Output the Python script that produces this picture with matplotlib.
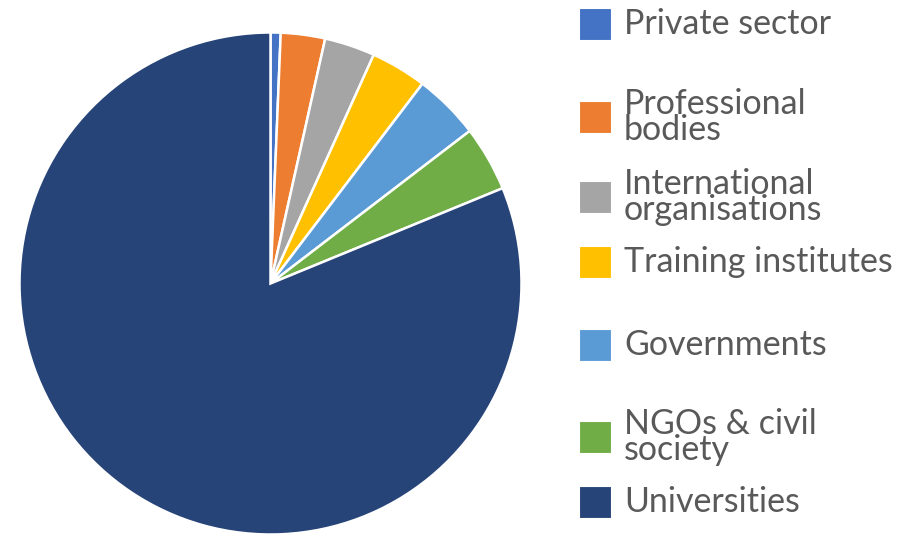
import matplotlib
matplotlib.use('Agg')
import matplotlib.pyplot as plt
from matplotlib.patches import Rectangle

labels = ['Private sector', 'Professional\nbodies', 'International\norganisations',
          'Training institutes', 'Governments', 'NGOs & civil\nsociety', 'Universities']
shares = [0.65, 2.85, 3.25, 3.6, 4.25, 4.2, 81.2]
colors = ['#4472C4', '#ED7D31', '#A5A5A5', '#FFC000', '#5B9BD5', '#70AD47', '#264478']
# legend rows (centre y in px from top), Excel spaced them unevenly
legend_y = [24, 117, 197, 262, 345, 437, 502]

W, H = 904, 540
fig = plt.figure(figsize=(W / 100, H / 100), dpi=100)

cx, cy, r = 270.5, 283.5, 251
ax = fig.add_axes([(cx - r) / W, (H - cy - r) / H, 2 * r / W, 2 * r / H])
ax.pie(shares, colors=colors, startangle=90, counterclock=False, radius=1,
       wedgeprops=dict(edgecolor='white', linewidth=1.8))
ax.set_xlim(-1.0, 1.0)
ax.set_ylim(-1.0, 1.0)
ax.set_aspect('equal')
ax.axis('off')

sq = 32
for lab, col, y in zip(labels, colors, legend_y):
    fig.add_artist(Rectangle((579 / W, (H - y - sq / 2) / H), sq / W, sq / H,
                             transform=fig.transFigure, facecolor=col,
                             edgecolor='white', linewidth=0.8))
    fig.text(624 / W, (H - y) / H, lab, ha='left', va='center',
             fontsize=24.5, family=['Lato', 'DejaVu Sans'], color='#595959',
             linespacing=0.8)

fig.savefig('out.png', dpi=100, facecolor='white')
